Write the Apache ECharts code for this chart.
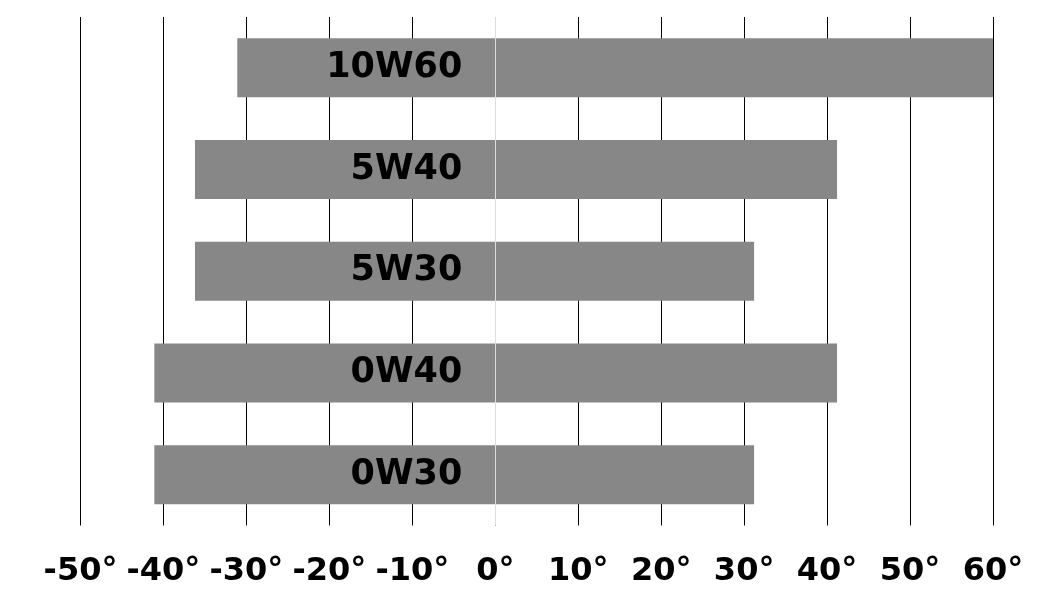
<!DOCTYPE html>
<html>
<head>
<meta charset="utf-8">
<script src="https://cdn.jsdelivr.net/npm/echarts@6/dist/echarts.min.js"></script>
<style>
html,body{margin:0;padding:0;background:#fff;}
#chart{width:1061px;height:612px;}
</style>
</head>
<body>
<div id="chart"></div>
<script>
const categories = ['10W60', '5W40', '5W30', '0W40', '0W30'];
const lowTemps = [-31.1, -36.2, -36.2, -41.1, -41.1];
const highTemps = [60.3, 41.2, 31.2, 41.2, 31.2];
const tickMin = -50;
const tickMax = 60;
const tickStep = 10;

const chart = echarts.init(document.getElementById('chart'));
const fontFam = '"DejaVu Sans", sans-serif';
chart.setOption({
  animation: false,
  backgroundColor: '#ffffff',
  grid: { left: 80.5, right: 68, top: 17, bottom: 86.5, containLabel: false },
  xAxis: {
    type: 'value',
    min: tickMin,
    max: tickMax,
    interval: tickStep,
    axisLine: { show: false },
    axisTick: { show: false },
    splitLine: { show: true, lineStyle: { color: '#000', width: 1 } },
    axisLabel: {
      margin: 30,
      fontFamily: fontFam,
      fontWeight: 'bold',
      fontSize: 32,
      color: '#000',
      formatter: v => v + '°'
    }
  },
  yAxis: {
    type: 'category',
    data: categories,
    inverse: true,
    axisLine: { show: false },
    axisTick: { show: false },
    axisLabel: { show: false },
    splitLine: { show: false }
  },
  series: [
    {
      type: 'bar',
      stack: 'range',
      data: lowTemps,
      barWidth: 59,
      itemStyle: { color: '#878787' },
      label: {
        show: true,
        position: 'insideRight',
        distance: 33,
        formatter: p => p.name,
        fontFamily: fontFam,
        fontWeight: 'bold',
        fontSize: 35,
        color: '#000'
      },
      markLine: {
        silent: true,
        symbol: 'none',
        label: { show: false },
        lineStyle: { color: '#dddddd', width: 1, type: 'solid' },
        data: [{ xAxis: 0 }],
        z: 10
      }
    },
    {
      type: 'bar',
      stack: 'range',
      data: highTemps,
      barWidth: 59,
      itemStyle: { color: '#878787' }
    }
  ]
});
</script>
</body>
</html>
